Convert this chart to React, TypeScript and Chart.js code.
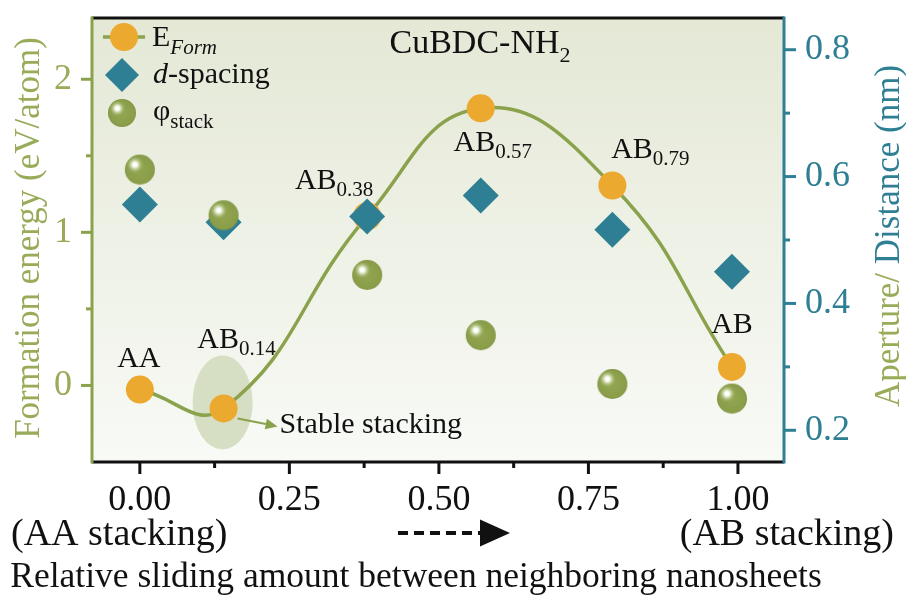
import React, { useEffect, useRef } from 'react';
import { Chart, registerables } from 'chart.js';

Chart.register(...registerables);

// ---- data ----
const SLIDING = [0, 0.14, 0.38, 0.57, 0.79, 0.99];
const E_FORM = [-0.027, -0.15, 1.105, 1.81, 1.306, 0.121];
const D_SPACING = [0.556, 0.528, 0.537, 0.57, 0.516, 0.45];
const PHI_STACK = [0.611, 0.539, 0.445, 0.35, 0.273, 0.25];
const POINT_NAMES = ['AA', 'AB', 'AB', 'AB', 'AB', 'AB'];
const POINT_SUBS = ['', '0.14', '0.38', '0.57', '0.79', ''];
const STABLE_INDEX = 1;
const X_TICKS = [0, 0.25, 0.5, 0.75, 1.0];
const X_MINOR = [0.125, 0.375, 0.625, 0.875];
const Y1_TICKS = [0, 1, 2];
const Y1_MINOR = [0.5, 1.5];
const Y2_TICKS = [0.2, 0.4, 0.6, 0.8];
const Y2_MINOR = [0.3, 0.5, 0.7];

// ---- styles ----
const SERIF = "'Liberation Serif', 'Times New Roman', serif";
const GREEN = '#8ba24c';
const GREEN_TEXT = '#98ab58';
const TEAL = '#2e7f93';
const ORANGE = '#eca92f';
const LABEL_OFFSETS = [
  [-1, -23], [13, -60], [-33, -27], [12, 43], [38, -27], [0, -34],
];

type Run = { t: string; f: string; dy?: number; c?: string };

function drawRuns(ctx: CanvasRenderingContext2D, runs: Run[], x: number, y: number, align: string, color: string) {
  let w = 0;
  for (const r of runs) { ctx.font = r.f; w += ctx.measureText(r.t).width; }
  let cx = align === 'center' ? x - w / 2 : align === 'right' ? x - w : x;
  ctx.textAlign = 'left';
  ctx.textBaseline = 'alphabetic';
  for (const r of runs) {
    ctx.font = r.f;
    ctx.fillStyle = r.c || color;
    ctx.fillText(r.t, cx, y + (r.dy || 0));
    cx += ctx.measureText(r.t).width;
  }
}

function makeSphere(r: number) {
  const c = document.createElement('canvas');
  const size = r * 2 + 2;
  c.width = size; c.height = size;
  const g = c.getContext('2d')!;
  const cx = size / 2, cy = size / 2;
  g.beginPath(); g.arc(cx, cy, r, 0, Math.PI * 2);
  const base = g.createRadialGradient(cx, cy, r * 0.3, cx, cy, r);
  base.addColorStop(0, '#90a450');
  base.addColorStop(0.85, '#8a9e4a');
  base.addColorStop(1, '#7e9242');
  g.fillStyle = base; g.fill();
  const hx = cx - r * 0.33, hy = cy - r * 0.33;
  const hl = g.createRadialGradient(hx, hy, 0, hx, hy, r * 0.6);
  hl.addColorStop(0, 'rgba(255,255,255,1)');
  hl.addColorStop(0.22, 'rgba(255,255,255,1)');
  hl.addColorStop(0.45, 'rgba(215,225,185,0.85)');
  hl.addColorStop(1, 'rgba(143,164,79,0)');
  g.beginPath(); g.arc(cx, cy, r, 0, Math.PI * 2);
  g.fillStyle = hl; g.fill();
  return c;
}

function diamond(ctx: CanvasRenderingContext2D, x: number, y: number, r: number) {
  ctx.beginPath();
  ctx.moveTo(x, y - r); ctx.lineTo(x + r, y); ctx.lineTo(x, y + r); ctx.lineTo(x - r, y);
  ctx.closePath(); ctx.fillStyle = TEAL; ctx.fill();
}

function arrow(ctx: CanvasRenderingContext2D, x1: number, y1: number, x2: number, y2: number, color: string, lw: number, head: number, dash: number[]) {
  const ang = Math.atan2(y2 - y1, x2 - x1);
  const bx = x2 - Math.cos(ang) * head, by = y2 - Math.sin(ang) * head;
  ctx.save();
  ctx.strokeStyle = color; ctx.fillStyle = color; ctx.lineWidth = lw;
  ctx.setLineDash(dash);
  ctx.beginPath(); ctx.moveTo(x1, y1); ctx.lineTo(bx, by); ctx.stroke();
  ctx.setLineDash([]);
  ctx.beginPath();
  ctx.moveTo(x2, y2);
  ctx.lineTo(bx + Math.sin(ang) * head * 0.45, by - Math.cos(ang) * head * 0.45);
  ctx.lineTo(bx - Math.sin(ang) * head * 0.45, by + Math.cos(ang) * head * 0.45);
  ctx.closePath(); ctx.fill();
  ctx.restore();
}

const noPad = (s: any) => { s.paddingTop = 0; s.paddingBottom = 0; s.paddingLeft = 0; s.paddingRight = 0; };

export default function App() {
  const ref = useRef<HTMLCanvasElement>(null);
  useEffect(() => {
    const canvas = ref.current!;
    const sphere = makeSphere(15);
    const legendSphere = makeSphere(14);

    const decor = {
      id: 'decor',
      beforeDatasetsDraw(chart: any) {
        const { ctx, chartArea: a, scales } = chart;
        ctx.save();
        const g = ctx.createLinearGradient(0, a.top, 0, a.bottom);
        g.addColorStop(0, '#e4e8d5');
        g.addColorStop(1, '#f8faf6');
        ctx.fillStyle = g;
        ctx.fillRect(a.left, a.top, a.right - a.left, a.bottom - a.top);
        const px = scales.x.getPixelForValue(SLIDING[STABLE_INDEX]);
        const py = scales.y.getPixelForValue(E_FORM[STABLE_INDEX]);
        ctx.beginPath();
        ctx.ellipse(px - 1, py - 6, 30, 47, 0, 0, Math.PI * 2);
        ctx.fillStyle = '#d6dec3';
        ctx.fill();
        ctx.restore();
      },
      afterDraw(chart: any) {
        const { ctx, chartArea: a, scales } = chart;
        ctx.save();
        // axis lines
        ctx.lineWidth = 3;
        ctx.strokeStyle = '#111';
        ctx.beginPath(); ctx.moveTo(a.left, a.top); ctx.lineTo(a.right, a.top); ctx.stroke();
        ctx.beginPath(); ctx.moveTo(a.left, a.bottom); ctx.lineTo(a.right, a.bottom); ctx.stroke();
        ctx.strokeStyle = GREEN;
        ctx.beginPath(); ctx.moveTo(a.left, a.top - 1.5); ctx.lineTo(a.left, a.bottom + 1.5); ctx.stroke();
        ctx.strokeStyle = TEAL;
        ctx.beginPath(); ctx.moveTo(a.right, a.top - 1.5); ctx.lineTo(a.right, a.bottom + 1.5); ctx.stroke();
        // ticks
        const tick = (x1: number, y1: number, x2: number, y2: number, c: string) => {
          ctx.strokeStyle = c; ctx.beginPath(); ctx.moveTo(x1, y1); ctx.lineTo(x2, y2); ctx.stroke();
        };
        for (const v of X_TICKS) { const x = scales.x.getPixelForValue(v); tick(x, a.bottom, x, a.bottom + 12, '#111'); }
        for (const v of X_MINOR) { const x = scales.x.getPixelForValue(v); tick(x, a.bottom, x, a.bottom + 6, '#111'); }
        for (const v of Y1_TICKS) { const y = scales.y.getPixelForValue(v); tick(a.left, y, a.left - 11, y, GREEN); }
        for (const v of Y1_MINOR) { const y = scales.y.getPixelForValue(v); tick(a.left, y, a.left - 6, y, GREEN); }
        for (const v of Y2_TICKS) { const y = scales.y2.getPixelForValue(v); tick(a.right, y, a.right + 12, y, TEAL); }
        for (const v of Y2_MINOR) { const y = scales.y2.getPixelForValue(v); tick(a.right, y, a.right + 6, y, TEAL); }

        // axis titles
        ctx.save();
        ctx.translate(39, 238); ctx.rotate(-Math.PI / 2);
        drawRuns(ctx, [{ t: 'Formation energy (eV/atom)', f: `35px ${SERIF}` }], 0, 0, 'center', GREEN_TEXT);
        ctx.restore();
        ctx.save();
        ctx.translate(899, 236); ctx.rotate(-Math.PI / 2);
        drawRuns(ctx, [
          { t: 'Aperture/', f: `35px ${SERIF}`, c: GREEN_TEXT },
          { t: ' Distance (nm)', f: `35px ${SERIF}`, c: TEAL },
        ], 0, 0, 'center', TEAL);
        ctx.restore();
        drawRuns(ctx, [{ t: 'Relative sliding amount between neighboring nanosheets', f: `35.5px ${SERIF}` }], 416, 587, 'center', '#111');
        drawRuns(ctx, [{ t: '(AA stacking)', f: `38px ${SERIF}` }], 11, 545, 'left', '#111');
        drawRuns(ctx, [{ t: '(AB stacking)', f: `38px ${SERIF}` }], 894, 545, 'right', '#111');
        arrow(ctx, 398, 533, 510, 533, '#111', 4, 30, [10, 6]);

        // title
        drawRuns(ctx, [
          { t: 'CuBDC-NH', f: `34px ${SERIF}` },
          { t: '2', f: `22px ${SERIF}`, dy: 9 },
        ], 480, 53, 'center', '#111');

        // legend
        ctx.lineWidth = 3.5; ctx.strokeStyle = GREEN;
        ctx.beginPath(); ctx.moveTo(103, 37); ctx.lineTo(145, 37); ctx.stroke();
        ctx.beginPath(); ctx.arc(124, 37, 14, 0, Math.PI * 2); ctx.fillStyle = ORANGE; ctx.fill();
        drawRuns(ctx, [
          { t: 'E', f: `30px ${SERIF}` },
          { t: 'Form', f: `italic 21px ${SERIF}`, dy: 8 },
        ], 152, 46, 'left', '#111');
        diamond(ctx, 122, 75, 17);
        drawRuns(ctx, [
          { t: 'd', f: `italic 30px ${SERIF}` },
          { t: '-spacing', f: `30px ${SERIF}` },
        ], 153, 83, 'left', '#111');
        ctx.drawImage(legendSphere, 122 - legendSphere.width / 2, 113 - legendSphere.height / 2);
        drawRuns(ctx, [
          { t: 'φ', f: `30px ${SERIF}` },
          { t: 'stack', f: `21px ${SERIF}`, dy: 8 },
        ], 153, 120, 'left', '#111');

        // point labels
        for (let i = 0; i < SLIDING.length; i++) {
          const x = scales.x.getPixelForValue(SLIDING[i]) + LABEL_OFFSETS[i][0];
          const y = scales.y.getPixelForValue(E_FORM[i]) + LABEL_OFFSETS[i][1];
          const runs: Run[] = [{ t: POINT_NAMES[i], f: `30px ${SERIF}` }];
          if (POINT_SUBS[i]) runs.push({ t: POINT_SUBS[i], f: `21px ${SERIF}`, dy: 7 });
          drawRuns(ctx, runs, x, y, 'center', '#111');
        }

        // stable stacking note
        const sx = scales.x.getPixelForValue(SLIDING[STABLE_INDEX]);
        const sy = scales.y.getPixelForValue(E_FORM[STABLE_INDEX]);
        arrow(ctx, sx + 14, sy + 10, sx + 54, sy + 18, GREEN, 2, 12, []);
        drawRuns(ctx, [{ t: 'Stable stacking', f: `30px ${SERIF}` }], sx + 56, sy + 25, 'left', '#111');
        ctx.restore();
      },
    };

    const chart = new Chart(canvas, {
      type: 'line',
      data: {
        datasets: [
          {
            label: 'E_Form',
            data: SLIDING.map((x, i) => ({ x, y: E_FORM[i] })),
            yAxisID: 'y',
            borderColor: GREEN,
            borderWidth: 3.5,
            tension: 0.45,
            pointRadius: 14,
            pointHoverRadius: 14,
            pointBackgroundColor: ORANGE,
            pointBorderWidth: 0,
            order: 2,
          },
          {
            label: 'd-spacing',
            data: SLIDING.map((x, i) => ({ x, y: D_SPACING[i] })),
            yAxisID: 'y2',
            showLine: false,
            pointStyle: 'rectRot',
            pointRadius: 18,
            pointHoverRadius: 18,
            pointBackgroundColor: TEAL,
            pointBorderWidth: 0,
            order: 1,
          },
          {
            label: 'phi_stack',
            data: SLIDING.map((x, i) => ({ x, y: PHI_STACK[i] })),
            yAxisID: 'y2',
            showLine: false,
            pointStyle: sphere as any,
            pointRadius: 15,
            pointHoverRadius: 15,
            pointBorderWidth: 0,
            order: 0,
          },
        ] as any,
      },
      options: {
        responsive: false,
        animation: false,
        devicePixelRatio: 1,
        layout: { padding: { top: 14, left: 0, right: 0, bottom: 0 } },
        plugins: { legend: { display: false }, tooltip: { enabled: false } },
        events: [],
        scales: {
          x: {
            type: 'linear',
            min: -0.08,
            max: 1.077,
            grid: { display: false, drawTicks: false },
            border: { display: false },
            afterBuildTicks: (s: any) => { s.ticks = X_TICKS.map((v) => ({ value: v })); },
            afterFit: (s: any) => { s.height = 134; noPad(s); },
            ticks: {
              padding: 17,
              color: '#111',
              font: { family: SERIF, size: 36 },
              maxRotation: 0,
              autoSkip: false,
              callback: (v: any) => Number(v).toFixed(2),
            },
          },
          y: {
            type: 'linear',
            position: 'left',
            min: -0.5,
            max: 2.4,
            grid: { display: false, drawTicks: false },
            border: { display: false },
            afterBuildTicks: (s: any) => { s.ticks = Y1_TICKS.map((v) => ({ value: v })); },
            afterFit: (s: any) => { s.width = 92; noPad(s); },
            ticks: {
              padding: 20,
              color: GREEN_TEXT,
              font: { family: SERIF, size: 36 },
              callback: (v: any) => String(v),
            },
          },
          y2: {
            type: 'linear',
            position: 'right',
            min: 0.15,
            max: 0.85,
            grid: { display: false, drawTicks: false },
            border: { display: false },
            afterBuildTicks: (s: any) => { s.ticks = Y2_TICKS.map((v) => ({ value: v })); },
            afterFit: (s: any) => { s.width = 122; noPad(s); },
            ticks: {
              padding: 21,
              color: TEAL,
              font: { family: SERIF, size: 36 },
              callback: (v: any) => Number(v).toFixed(1),
            },
          },
        },
      } as any,
      plugins: [decor],
    });
    return () => chart.destroy();
  }, []);

  return (
    <div style={{ position: 'fixed', left: 0, top: 0, width: 906, height: 596, background: '#fff' }}>
      <canvas ref={ref} width={906} height={596} style={{ display: 'block', width: 906, height: 596 }} />
    </div>
  );
}
